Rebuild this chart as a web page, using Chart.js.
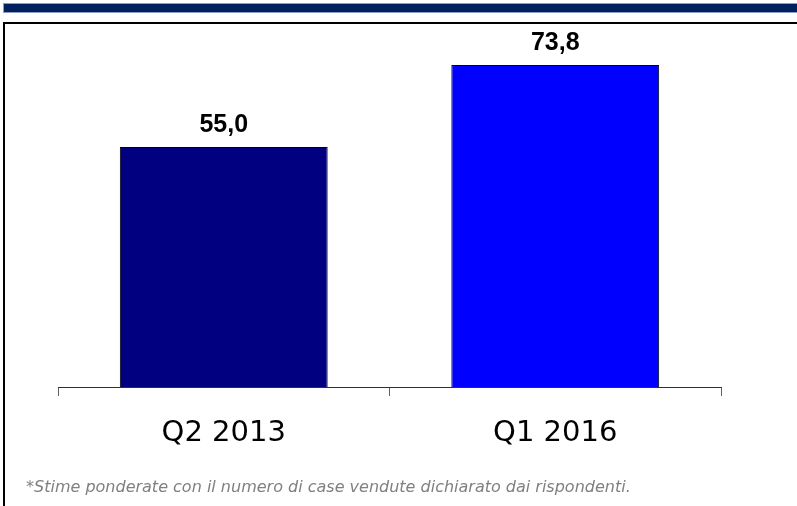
<!DOCTYPE html>
<html>
<head>
<meta charset="utf-8">
<script src="https://cdn.jsdelivr.net/npm/chart.js@4"></script>
<style>
    body { margin: 0; background: #fff; width: 797px; height: 506px; overflow: hidden; position: relative; }
    #band { position: absolute; left: 3px; top: 3px; right: 0; height: 8px; background: #002060; border: 1px solid #8c9cc4; border-right: none; }
    #frame { position: absolute; left: 3px; top: 22px; right: -5px; bottom: -5px; border-top: 2px solid #000; border-left: 2px solid #000; }
    #wrap { position: absolute; left: 0; top: 0; width: 797px; height: 506px; }
    #note { position: absolute; left: 26px; top: 477px; font: italic 16px "DejaVu Sans", Verdana, sans-serif; color: #808080; white-space: nowrap; }
</style>
</head>
<body>
<div id="band"></div>
<div id="frame"></div>
<div id="wrap"><canvas id="chart" width="797" height="506"></canvas></div>
<div id="note">*Stime ponderate con il numero di case vendute dichiarato dai rispondenti.</div>
<script>
// Chart data
const categories = ['Q2 2013', 'Q1 2016'];
const values = [55.0, 73.8];
const barColors = ['#000080', '#0000ff'];

// Draw the value above each bar, with a comma as decimal separator
const valueLabels = {
    id: 'valueLabels',
    afterDatasetsDraw(chart) {
        const ctx = chart.ctx;
        const meta = chart.getDatasetMeta(0);
        ctx.save();
        ctx.font = 'bold 25px "Liberation Sans", Arial, sans-serif';
        ctx.fillStyle = '#000';
        ctx.textAlign = 'center';
        ctx.textBaseline = 'alphabetic';
        meta.data.forEach((bar, i) => {
            ctx.fillText(values[i].toFixed(1).replace('.', ','), bar.x, bar.y - 15);
        });
        ctx.restore();
    }
};

new Chart(document.getElementById('chart'), {
    type: 'bar',
    data: {
        labels: categories,
        datasets: [{
            data: values,
            backgroundColor: barColors,
            borderColor: '#000',
            borderWidth: 1,
            barPercentage: 0.627,
            categoryPercentage: 1
        }]
    },
    options: {
        responsive: false,
        animation: false,
        layout: { padding: { left: 58, right: 76, top: 38, bottom: 0 } },
        plugins: {
            legend: { display: false },
            tooltip: { enabled: false }
        },
        scales: {
            y: { display: false, min: 0, max: 80 },
            x: {
                afterFit(scale) { scale.height = 119; },
                border: { display: true, color: '#303030', width: 1 },
                grid: {
                    offset: true,
                    drawOnChartArea: false,
                    drawTicks: true,
                    tickLength: 9,
                    color: '#606060'
                },
                ticks: {
                    padding: 20,
                    color: '#000',
                    font: { family: '"DejaVu Sans", Verdana, sans-serif', size: 29 }
                }
            }
        }
    },
    plugins: [valueLabels]
});
</script>
</body>
</html>
